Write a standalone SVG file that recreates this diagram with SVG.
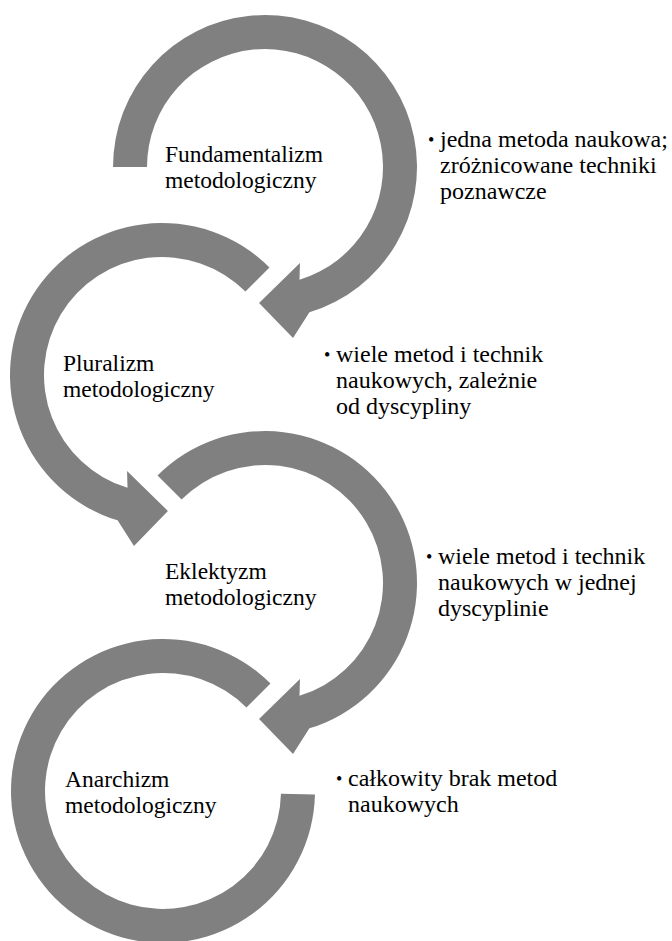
<svg xmlns="http://www.w3.org/2000/svg" width="672" height="941" viewBox="0 0 672 941">
<defs>
<style>
.arr{fill:#808080;stroke:none}
</style>
<path id="arrowA" d="M -152 0 A 152 152 0 1 1 44.44 145.36 L 28.01 171.02 L -5.94 135.97 L 34.95 96.04 L 34.50 112.84 A 118 118 0 1 0 -118 0 Z"/>
<path id="arrowB" d="M -107.48 -107.48 A 152 152 0 1 1 44.44 145.36 L 28.01 171.02 L -5.94 135.97 L 34.95 96.04 L 34.50 112.84 A 118 118 0 1 0 -83.44 -83.44 Z"/>
</defs>
<rect width="672" height="941" fill="#fff"/>
<g id="connectors">
<use href="#arrowA" class="arr" transform="translate(265,167)"/>
<use href="#arrowB" class="arr" transform="translate(162,375) scale(-1,1)"/>
<use href="#arrowB" class="arr" transform="translate(265,583)"/>
<path class="arr" transform="translate(163,791)" d="M 107.48 -107.48 A 152 152 0 1 0 151.96 3.45 L 117.97 2.68 A 118 118 0 1 1 83.44 -83.44 Z"/>
</g>
<g id="node1" font-family="Liberation Serif, serif" font-size="23.5">
<text x="165" y="162">Fundamentalizm</text>
<text x="165" y="188">metodologiczny</text>
<text font-size="18" x="428" y="146">•</text>
<text font-size="24" x="440" y="147">jedna metoda naukowa;</text>
<text font-size="24" x="440" y="173">zróżnicowane techniki</text>
<text font-size="24" x="440" y="199">poznawcze</text>
</g>
<g id="node2" font-family="Liberation Serif, serif" font-size="23.5">
<text x="63" y="371">Pluralizm</text>
<text x="63" y="397">metodologiczny</text>
<text font-size="18" x="324" y="361">•</text>
<text font-size="24" x="336" y="362">wiele metod i technik</text>
<text font-size="24" x="336" y="388">naukowych, zależnie</text>
<text font-size="24" x="336" y="414">od dyscypliny</text>
</g>
<g id="node3" font-family="Liberation Serif, serif" font-size="23.5">
<text x="165" y="579">Eklektyzm</text>
<text x="165" y="605">metodologiczny</text>
<text font-size="18" x="426" y="563">•</text>
<text font-size="24" x="438" y="564">wiele metod i technik</text>
<text font-size="24" x="438" y="590">naukowych w jednej</text>
<text font-size="24" x="438" y="616">dyscyplinie</text>
</g>
<g id="node4" font-family="Liberation Serif, serif" font-size="23.5">
<text x="65" y="787">Anarchizm</text>
<text x="65" y="813">metodologiczny</text>
<text font-size="18" x="336" y="785">•</text>
<text font-size="24" x="348" y="786">całkowity brak metod</text>
<text font-size="24" x="348" y="812">naukowych</text>
</g>
</svg>
